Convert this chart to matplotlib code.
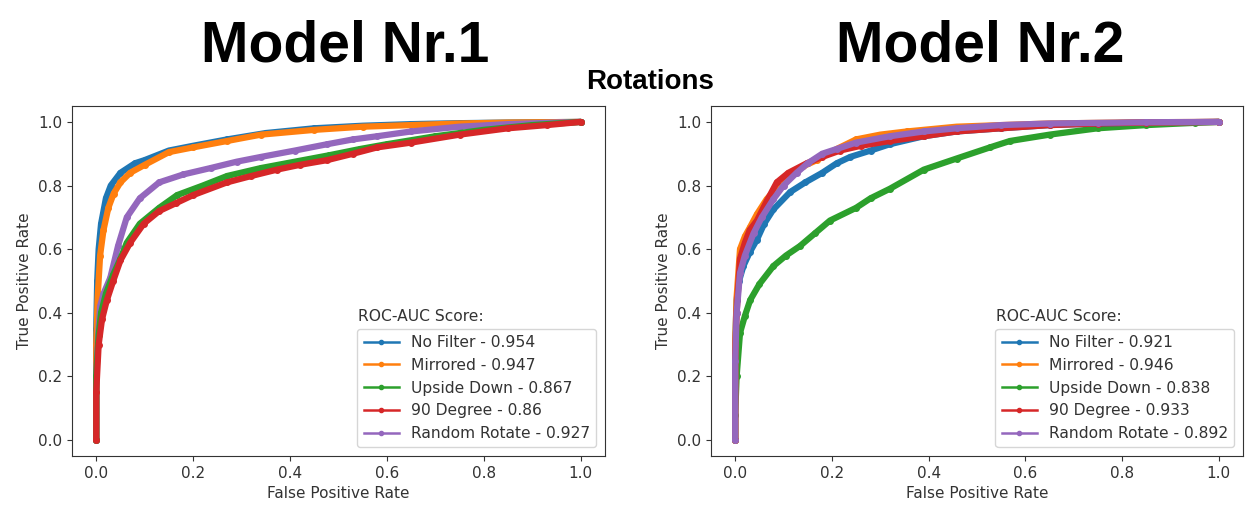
import matplotlib
matplotlib.use("Agg")
import matplotlib.pyplot as plt
from matplotlib.lines import Line2D

# ---------------- data ----------------
labels = ["No Filter", "Mirrored", "Upside Down", "90 Degree", "Random Rotate"]
colors = ["#1f77b4", "#ff7f0e", "#2ca02c", "#d62728", "#9467bd"]

auc_m1 = [0.954, 0.947, 0.867, 0.86, 0.927]
auc_m2 = [0.921, 0.946, 0.838, 0.933, 0.892]

# Model 1
fpr_m1_nofilter = [0, 0, 0.002, 0.005, 0.01, 0.02, 0.03, 0.05, 0.08, 0.1, 0.15, 0.2, 0.27, 0.35, 0.45, 0.55, 0.65, 0.75, 0.85, 1.0]
tpr_m1_nofilter = [0, 0.35, 0.5, 0.6, 0.68, 0.76, 0.8, 0.84, 0.87, 0.88, 0.91, 0.925, 0.945, 0.965, 0.98, 0.988, 0.993, 0.996, 0.998, 1.0]

fpr_m1_mirrored = [0, 0, 0.003, 0.008, 0.015, 0.025, 0.036, 0.05, 0.07, 0.1, 0.15, 0.2, 0.27, 0.34, 0.45, 0.55, 0.65, 0.75, 0.85, 1.0]
tpr_m1_mirrored = [0, 0.3, 0.45, 0.58, 0.66, 0.73, 0.775, 0.81, 0.84, 0.865, 0.905, 0.92, 0.94, 0.96, 0.975, 0.985, 0.99, 0.995, 0.998, 1.0]

fpr_m1_upside = [0, 0, 0.005, 0.01, 0.02, 0.035, 0.05, 0.063, 0.09, 0.13, 0.167, 0.22, 0.27, 0.34, 0.41, 0.48, 0.545, 0.6, 0.7, 0.8, 0.9, 1.0]
tpr_m1_upside = [0, 0.2, 0.33, 0.4, 0.46, 0.52, 0.57, 0.62, 0.68, 0.73, 0.77, 0.8, 0.83, 0.855, 0.875, 0.895, 0.915, 0.93, 0.955, 0.975, 0.99, 1.0]

fpr_m1_90deg = [0, 0, 0.005, 0.012, 0.022, 0.035, 0.05, 0.07, 0.098, 0.13, 0.165, 0.2, 0.27, 0.32, 0.373, 0.42, 0.477, 0.53, 0.58, 0.65, 0.75, 0.85, 0.93, 1.0]
tpr_m1_90deg = [0, 0.15, 0.3, 0.38, 0.44, 0.5, 0.565, 0.62, 0.68, 0.72, 0.745, 0.77, 0.81, 0.83, 0.85, 0.865, 0.88, 0.9, 0.92, 0.935, 0.96, 0.98, 0.99, 1.0]

fpr_m1_random = [0, 0, 0.004, 0.008, 0.015, 0.029, 0.045, 0.063, 0.09, 0.13, 0.18, 0.236, 0.29, 0.34, 0.41, 0.477, 0.53, 0.58, 0.65, 0.75, 0.85, 0.95, 1.0]
tpr_m1_random = [0, 0.2, 0.33, 0.42, 0.46, 0.51, 0.61, 0.70, 0.76, 0.81, 0.835, 0.855, 0.875, 0.89, 0.91, 0.93, 0.945, 0.955, 0.97, 0.985, 0.993, 0.998, 1.0]

# Model 2
fpr_m2_nofilter = [0, 0, 0.003, 0.008, 0.017, 0.03, 0.045, 0.06, 0.079, 0.114, 0.145, 0.18, 0.21, 0.238, 0.28, 0.32, 0.39, 0.458, 0.55, 0.65, 0.75, 0.85, 1.0]
tpr_m2_nofilter = [0, 0.3, 0.44, 0.5, 0.547, 0.59, 0.63, 0.68, 0.725, 0.78, 0.81, 0.84, 0.87, 0.89, 0.91, 0.93, 0.955, 0.97, 0.98, 0.99, 0.995, 0.998, 1.0]

fpr_m2_mirrored = [0, 0, 0.003, 0.01, 0.02, 0.031, 0.045, 0.065, 0.09, 0.114, 0.14, 0.169, 0.21, 0.25, 0.3, 0.355, 0.458, 0.55, 0.65, 0.75, 0.85, 1.0]
tpr_m2_mirrored = [0, 0.3, 0.45, 0.6, 0.64, 0.67, 0.71, 0.757, 0.8, 0.83, 0.86, 0.88, 0.915, 0.945, 0.96, 0.97, 0.985, 0.99, 0.995, 0.997, 0.999, 1.0]

fpr_m2_upside = [0, 0, 0.003, 0.01, 0.02, 0.031, 0.05, 0.079, 0.105, 0.134, 0.165, 0.196, 0.25, 0.28, 0.32, 0.39, 0.458, 0.527, 0.568, 0.65, 0.75, 0.85, 0.95, 1.0]
tpr_m2_upside = [0, 0.08, 0.2, 0.337, 0.39, 0.44, 0.49, 0.547, 0.58, 0.61, 0.65, 0.69, 0.73, 0.76, 0.79, 0.85, 0.885, 0.92, 0.94, 0.96, 0.98, 0.99, 0.997, 1.0]

fpr_m2_90deg = [0, 0, 0.003, 0.01, 0.02, 0.03, 0.045, 0.065, 0.086, 0.11, 0.148, 0.18, 0.217, 0.26, 0.32, 0.39, 0.458, 0.55, 0.65, 0.75, 0.85, 1.0]
tpr_m2_90deg = [0, 0.25, 0.4, 0.57, 0.62, 0.66, 0.69, 0.75, 0.81, 0.84, 0.87, 0.89, 0.91, 0.925, 0.94, 0.955, 0.97, 0.98, 0.99, 0.995, 0.998, 1.0]

fpr_m2_random = [0, 0, 0.003, 0.01, 0.02, 0.038, 0.055, 0.079, 0.1, 0.127, 0.15, 0.18, 0.21, 0.25, 0.32, 0.39, 0.458, 0.55, 0.65, 0.75, 0.85, 1.0]
tpr_m2_random = [0, 0.25, 0.4, 0.525, 0.58, 0.65, 0.7, 0.757, 0.8, 0.84, 0.87, 0.9, 0.915, 0.935, 0.955, 0.97, 0.98, 0.99, 0.995, 0.997, 0.999, 1.0]

curves_m1 = [(fpr_m1_nofilter, tpr_m1_nofilter), (fpr_m1_mirrored, tpr_m1_mirrored),
             (fpr_m1_upside, tpr_m1_upside), (fpr_m1_90deg, tpr_m1_90deg),
             (fpr_m1_random, tpr_m1_random)]
curves_m2 = [(fpr_m2_nofilter, tpr_m2_nofilter), (fpr_m2_mirrored, tpr_m2_mirrored),
             (fpr_m2_upside, tpr_m2_upside), (fpr_m2_90deg, tpr_m2_90deg),
             (fpr_m2_random, tpr_m2_random)]

# ---------------- figure ----------------
plt.rcParams['font.family'] = ['DejaVu Sans']
W, H = 1246, 509
fig = plt.figure(figsize=(W / 100, H / 100), dpi=100)

ax1 = fig.add_axes([72 / W, 1 - 456 / H, (605 - 72) / W, (456 - 106) / H])
ax2 = fig.add_axes([711 / W, 1 - 456 / H, (1243 - 711) / W, (456 - 106) / H])

title_font = ['Liberation Sans Narrow', 'Liberation Sans', 'DejaVu Sans']
FS = 11.2

legends = []
for ax, curves, aucs in [(ax1, curves_m1, auc_m1), (ax2, curves_m2, auc_m2)]:
    order = [0, 1, 4, 2, 3] if ax is ax1 else [2, 0, 1, 3, 4]
    for i in order:
        fpr, tpr = curves[i]
        ax.plot(fpr, tpr, color=colors[i], lw=4.5, marker='.', markersize=8,
                solid_capstyle='round', solid_joinstyle='round')
    ax.set_xlim(-0.05, 1.05)
    ax.set_ylim(-0.05, 1.05)
    ax.set_xticks([0, 0.2, 0.4, 0.6, 0.8, 1.0])
    ax.set_yticks([0, 0.2, 0.4, 0.6, 0.8, 1.0])
    ax.tick_params(labelsize=11, colors='#333333', labelcolor='#333333')
    for s in ax.spines.values():
        s.set_color('#333333')
    ax.set_xlabel("False Positive Rate", fontsize=11, color='#333333')
    ax.set_ylabel("True Positive Rate", fontsize=11, color='#333333')
    handles = [Line2D([], [], color=colors[i], lw=1.8, marker='.', markersize=6)
               for i in range(5)]
    leg = ax.legend(handles, [f"{labels[i]} - {aucs[i]}" for i in range(5)],
                    loc='lower right', fontsize=FS, handlelength=2.25,
                    borderaxespad=0.55)
    for t in leg.get_texts():
        t.set_color('#333333')
    legends.append(leg)

fig.canvas.draw()
renderer = fig.canvas.get_renderer()
inv = fig.transFigure.inverted()
for leg in legends:
    bb = leg.get_window_extent(renderer)
    x0, y1 = inv.transform((bb.x0, bb.y1))
    fig.text(x0 + 1 / W, y1 + 8 / H, "ROC-AUC Score:", fontsize=FS, color='#333333',
             ha='left', va='baseline')

fig.text(345 / W, 1 - 62 / H, "Model Nr.1", family=title_font, fontweight='bold',
         fontsize=41, ha='center', va='baseline')
fig.text(980 / W, 1 - 62 / H, "Model Nr.2", family=title_font, fontweight='bold',
         fontsize=41, ha='center', va='baseline')
fig.text(650 / W, 1 - 89 / H, "Rotations", family=title_font, fontweight='bold',
         fontsize=20, ha='center', va='baseline')

fig.savefig("out.png", dpi=100)
